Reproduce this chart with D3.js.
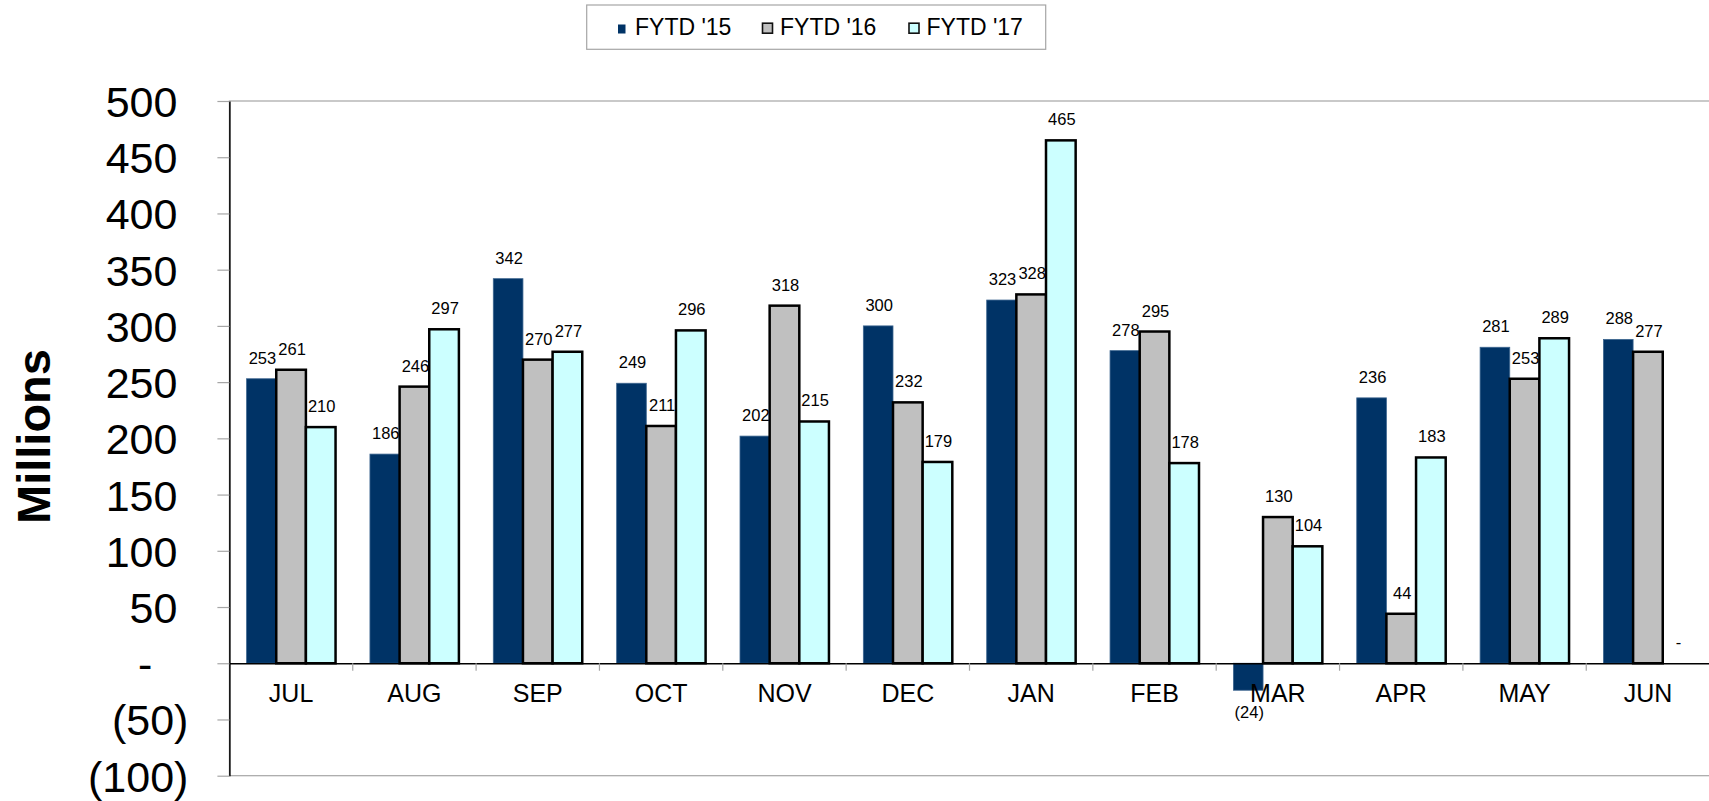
<!DOCTYPE html>
<html>
<head>
<meta charset="utf-8">
<script src="https://cdn.jsdelivr.net/npm/d3@7"></script>
<style>
  html, body { margin: 0; padding: 0; background: #ffffff; }
  svg { display: block; font-family: "Liberation Sans", Arial, sans-serif; }
</style>
</head>
<body>
<svg id="chart" width="1709" height="801"></svg>
<script>
// ---- Data ----
const categories = ["JUL","AUG","SEP","OCT","NOV","DEC","JAN","FEB","MAR","APR","MAY","JUN"];
const seriesNames = ["FYTD '15","FYTD '16","FYTD '17"];
const fy15 = [253, 186, 342, 249, 202, 300, 323, 278, -24, 236, 281, 288];
const fy16 = [261, 246, 270, 211, 318, 232, 328, 295, 130, 44, 253, 277];
const fy17 = [210, 297, 277, 296, 215, 179, 465, 178, 104, 183, 289, 0];
const yTicks = [-100, -50, 0, 50, 100, 150, 200, 250, 300, 350, 400, 450, 500];
const yLabel = "Millions";

const seriesValues = [fy15, fy16, fy17];
const seriesStyle = [
  { fill: "#003366", stroke: "#3d6690", sw: 0.8 },
  { fill: "#C0C0C0", stroke: "#000000", sw: 2.5 },
  { fill: "#CCFFFF", stroke: "#000000", sw: 2.5 }
];

const svg = d3.select("#chart");
const plot = { left: 229.4, right: 1709.6, top: 101, bottom: 775.7 };

const x0 = d3.scaleBand().domain(categories).range([plot.left, plot.right]).padding(0);
const x1 = d3.scaleBand().domain(seriesNames).range([0, x0.bandwidth()]).paddingInner(0).paddingOuter(0.58);
const y = d3.scaleLinear().domain([-100, 500]).range([plot.bottom, plot.top]);

const fmt = v => v === 0 ? "-" : (v < 0 ? "(" + d3.format(",")(-v) + ")" : d3.format(",")(v));

// plot area border (gray)
svg.append("rect")
  .attr("x", plot.left).attr("y", plot.top)
  .attr("width", plot.right - plot.left).attr("height", plot.bottom - plot.top)
  .attr("fill", "none").attr("stroke", "#a6a6a6").attr("stroke-width", 1.2);

// ---- Bars ----
const rows = categories.map((c, i) => ({ cat: c, vals: seriesNames.map((s, k) => ({ s, k, v: seriesValues[k][i] })) }));

const groups = svg.append("g").selectAll("g").data(rows).join("g")
  .attr("transform", d => `translate(${x0(d.cat)},0)`);

groups.selectAll("rect").data(d => d.vals).join("rect")
  .attr("x", d => x1(d.s))
  .attr("width", x1.bandwidth())
  .attr("y", d => y(Math.max(0, d.v)))
  .attr("height", d => Math.abs(y(d.v) - y(0)))
  .attr("fill", d => seriesStyle[d.k].fill)
  .attr("stroke", d => d.v === 0 ? "none" : seriesStyle[d.k].stroke)
  .attr("stroke-width", d => seriesStyle[d.k].sw);

// ---- Y axis ----
const yAxis = d3.axisLeft(y).tickValues(yTicks).tickSize(12).tickSizeOuter(0).tickPadding(40)
  .tickFormat(fmt);
const gy = svg.append("g").attr("transform", `translate(${plot.left},0)`).call(yAxis);
gy.select(".domain").attr("stroke", "#000").attr("stroke-width", 1.5);
gy.selectAll(".tick line").attr("stroke", "#a6a6a6").attr("stroke-width", 1.2);
gy.selectAll(".tick text")
  .attr("font-size", 43).attr("fill", "#000")
  .attr("font-family", "\"Liberation Sans\", Arial, sans-serif")
  .attr("dy", "0.36em")
  .attr("x", d => d < 0 ? -41 : (d === 0 ? -77 : -52));

// ---- X axis (zero line + labels) ----
const xAxis = d3.axisBottom(x0).tickSize(0).tickSizeOuter(0).tickPadding(20.6);
const gx = svg.append("g").attr("transform", `translate(0,${y(0)})`).call(xAxis);
gx.select(".domain").attr("stroke", "#000").attr("stroke-width", 1.5);
gx.selectAll(".tick text")
  .attr("font-size", 25).attr("fill", "#000")
  .attr("font-family", "\"Liberation Sans\", Arial, sans-serif");
// category boundary tick marks
gx.append("g").selectAll("line").data(categories.slice(1)).join("line")
  .attr("x1", d => x0(d)).attr("x2", d => x0(d))
  .attr("y1", 0).attr("y2", 7.5)
  .attr("stroke", "#a6a6a6").attr("stroke-width", 1.2);

// ---- Data labels ----
groups.selectAll("text.lbl").data(d => d.vals).join("text")
  .attr("class", "lbl")
  .attr("x", d => x1(d.s) + x1.bandwidth() / 2 + 1)
  .attr("y", d => d.v < 0 ? y(d.v) + 28 : y(d.v) - 15)
  .attr("text-anchor", "middle")
  .attr("font-size", 16.5)
  .attr("fill", "#000")
  .text(d => fmt(d.v));

// ---- Y label ----
svg.append("text")
  .attr("transform", `translate(50,436.5) rotate(-90)`)
  .attr("text-anchor", "middle")
  .attr("font-size", 47).attr("font-weight", "bold").attr("fill", "#000")
  .text(yLabel);

// ---- Legend ----
const legend = svg.append("g");
legend.append("rect")
  .attr("x", 586.7).attr("y", 5).attr("width", 459).attr("height", 44.3)
  .attr("fill", "#fff").attr("stroke", "#a6a6a6").attr("stroke-width", 1.2);
const legendX = [635, 780, 926.5];
const legendKeyX = [618, 762.5, 909];
const li = legend.selectAll("g.item").data(seriesNames).join("g").attr("class", "item");
li.append("rect")
  .attr("x", (d, i) => legendKeyX[i])
  .attr("y", (d, i) => i === 0 ? 24.5 : 23.2)
  .attr("width", (d, i) => i === 0 ? 7.5 : 10)
  .attr("height", (d, i) => i === 0 ? 9 : 10)
  .attr("fill", (d, i) => seriesStyle[i].fill)
  .attr("stroke", (d, i) => i === 0 ? "none" : "#111")
  .attr("stroke-width", 1.6);
li.append("text")
  .attr("x", (d, i) => legendX[i]).attr("y", 35)
  .attr("font-size", 23).attr("fill", "#000")
  .text(d => d);
</script>
</body>
</html>
